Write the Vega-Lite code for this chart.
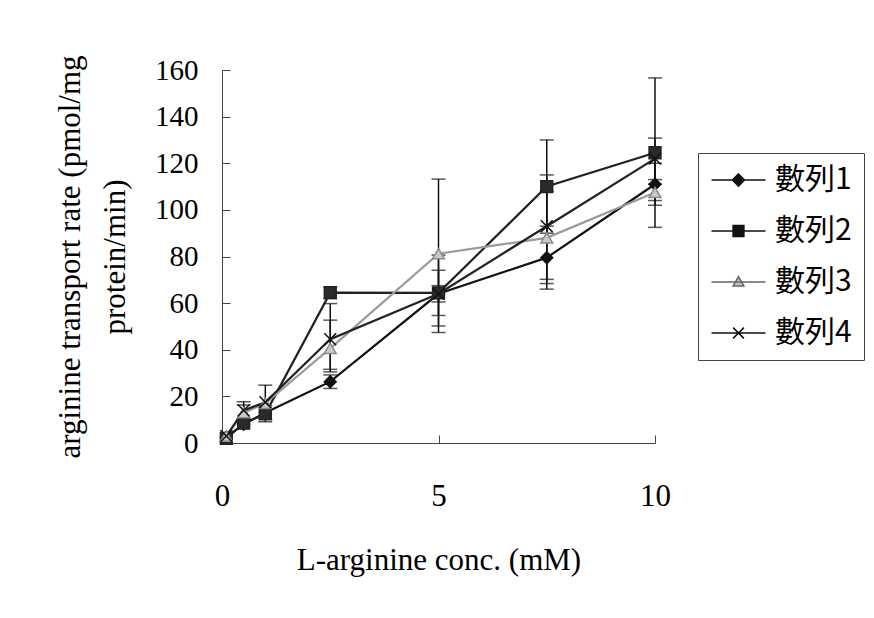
{
  "$schema": "https://vega.github.io/schema/vega-lite/v6.json",
  "width": 433,
  "height": 373,
  "autosize": "none",
  "padding": {"left": 222, "top": 70, "right": 219, "bottom": 175},
  "background": "white",
  "config": {
    "view": {"stroke": null},
    "axis": {
      "grid": false,
      "domainColor": "#444",
      "domainWidth": 1,
      "tickColor": "#444",
      "tickWidth": 1,
      "labelFont": "Liberation Serif",
      "labelFontSize": 29,
      "labelColor": "black",
      "labelFlush": false,
      "titleFont": "Liberation Serif",
      "titleFontSize": 31,
      "titleFontWeight": "normal",
      "titleColor": "black"
    },
    "legend": {
      "labelFont": "Noto Sans CJK TC",
      "labelFontSize": 30,
      "labelColor": "black"
    }
  },
  "data": {
    "values": [
      {"x": 0.1, "y": 2.5, "series": "數列1", "lo": null, "hi": null},
      {"x": 0.5, "y": 8, "series": "數列1", "lo": null, "hi": null},
      {"x": 1, "y": 13, "series": "數列1", "lo": null, "hi": null},
      {"x": 2.5, "y": 26.3, "series": "數列1", "lo": 23.4, "hi": 29.2},
      {"x": 5, "y": 64, "series": "數列1", "lo": 60.5, "hi": 67.5},
      {"x": 7.5, "y": 79.5, "series": "數列1", "lo": 66, "hi": 93},
      {"x": 10, "y": 111, "series": "數列1", "lo": 102, "hi": 120},
      {"x": 0.1, "y": 2, "series": "數列2", "lo": null, "hi": null},
      {"x": 0.5, "y": 8.5, "series": "數列2", "lo": null, "hi": null},
      {"x": 1, "y": 12.5, "series": "數列2", "lo": 9.1, "hi": 16},
      {"x": 2.5, "y": 64.5, "series": "數列2", "lo": 62, "hi": 67},
      {"x": 5, "y": 64.4, "series": "數列2", "lo": 54.7, "hi": 74.1},
      {"x": 7.5, "y": 110, "series": "數列2", "lo": 90, "hi": 130},
      {"x": 10, "y": 124.5, "series": "數列2", "lo": 92.5, "hi": 156.6},
      {"x": 0.1, "y": 3, "series": "數列3", "lo": null, "hi": null},
      {"x": 0.5, "y": 13, "series": "數列3", "lo": 10, "hi": 16.3},
      {"x": 1, "y": 17, "series": "數列3", "lo": null, "hi": null},
      {"x": 2.5, "y": 40.6, "series": "數列3", "lo": 31.6, "hi": 52.7},
      {"x": 5, "y": 81.2, "series": "數列3", "lo": 50.2, "hi": 113.2},
      {"x": 7.5, "y": 88, "series": "數列3", "lo": 68.4, "hi": 108},
      {"x": 10, "y": 107.5, "series": "數列3", "lo": 104, "hi": 111},
      {"x": 0.1, "y": 3, "series": "數列4", "lo": null, "hi": null},
      {"x": 0.5, "y": 14, "series": "數列4", "lo": 10.3, "hi": 17.7},
      {"x": 1, "y": 17.5, "series": "數列4", "lo": 10.2, "hi": 24.8},
      {"x": 2.5, "y": 44.5, "series": "數列4", "lo": 30.5, "hi": 59.8},
      {"x": 5, "y": 64, "series": "數列4", "lo": 47.4, "hi": 80.6},
      {"x": 7.5, "y": 93, "series": "數列4", "lo": 70.2, "hi": 115},
      {"x": 10, "y": 122, "series": "數列4", "lo": 113, "hi": 130.8}
    ]
  },
  "encoding": {
    "x": {
      "field": "x",
      "type": "quantitative",
      "scale": {"domain": [0, 10], "nice": false, "zero": false},
      "axis": {
        "title": "L-arginine conc. (mM)",
        "values": [0, 5, 10],
        "tickSize": -8,
        "labelFontSize": 31,
        "labelPadding": 46,
        "titlePadding": 34
      }
    },
    "y": {
      "field": "y",
      "type": "quantitative",
      "scale": {"domain": [0, 160], "nice": false},
      "axis": {
        "title": ["arginine transport rate (pmol/mg", "protein/min)"],
        "titleLineHeight": 45,
        "values": [0, 20, 40, 60, 80, 100, 120, 140, 160],
        "tickSize": -8,
        "labelPadding": 32,
        "titlePadding": 23
      }
    }
  },
  "resolve": {"scale": {"shape": "independent", "fill": "independent", "stroke": "independent"}},
  "layer": [
    {
      "mark": {"type": "line"},
      "encoding": {
        "detail": {"field": "series"},
        "color": {
          "field": "series",
          "type": "nominal",
          "scale": {"domain": ["數列1", "數列2", "數列3", "數列4"], "range": ["#111111", "#222222", "#9a9a9a", "#222222"]},
          "legend": null
        },
        "strokeWidth": {
          "field": "series",
          "type": "nominal",
          "scale": {"domain": ["數列1", "數列2", "數列3", "數列4"], "range": [2.2, 2.2, 1.2, 1.2]},
          "legend": null
        }
      }
    },
    {
      "transform": [{"filter": "datum.lo != null"}],
      "mark": {"type": "errorbar", "ticks": {"size": 14, "thickness": 1.5}, "rule": {"strokeWidth": 1.5}, "color": "#111111"},
      "encoding": {
        "detail": {"field": "series"},
        "y": {"field": "lo", "type": "quantitative"},
        "y2": {"field": "hi"}
      }
    },
    {
      "mark": {"type": "point", "size": 140, "strokeWidth": 1.5, "opacity": 1},
      "encoding": {
        "shape": {
          "field": "series",
          "type": "nominal",
          "scale": {"domain": ["數列1", "數列2", "數列3", "數列4"], "range": ["diamond", "square", "triangle-up", "M-1,-1L1,1M-1,1L1,-1"]},
          "legend": null
        },
        "fill": {
          "field": "series",
          "type": "nominal",
          "scale": {"domain": ["數列1", "數列2", "數列3", "數列4"], "range": ["#111111", "#2a2a2a", "#c8c8c8", "transparent"]},
          "legend": null
        },
        "stroke": {
          "field": "series",
          "type": "nominal",
          "scale": {"domain": ["數列1", "數列2", "數列3", "數列4"], "range": ["#111111", "#222222", "#8a8a8a", "#111111"]},
          "legend": null
        }
      }
    },
    {
      "transform": [{"filter": "false"}],
      "mark": {"type": "point", "size": 140, "strokeWidth": 1.5, "opacity": 1},
      "encoding": {
        "shape": {
          "field": "series",
          "type": "nominal",
          "title": null,
          "scale": {
            "domain": ["數列1", "數列2", "數列3", "數列4"],
            "range": [
              "M-1,0L3,0M1,-0.45L1.45,0L1,0.45L0.55,0Z",
              "M-1,0L3,0M0.6,-0.4L1.4,-0.4L1.4,0.4L0.6,0.4Z",
              "M-1,0L3,0M1,-0.4L1.4,0.3L0.6,0.3Z",
              "M-1,0L3,0M0.6,-0.4L1.4,0.4M0.6,0.4L1.4,-0.4"
            ]
          },
          "legend": {
            "orient": "none",
            "legendX": 476,
            "legendY": 83,
            "title": null,
            "padding": 12,
            "strokeColor": "#444",
            "symbolSize": 729,
            "symbolStrokeWidth": 1.5,
            "labelOffset": 35,
            "rowPadding": 21
          }
        },
        "fill": {
          "field": "series",
          "type": "nominal",
          "title": null,
          "scale": {"domain": ["數列1", "數列2", "數列3", "數列4"], "range": ["#111111", "#111111", "#c8c8c8", "transparent"]}
        },
        "stroke": {
          "field": "series",
          "type": "nominal",
          "title": null,
          "scale": {"domain": ["數列1", "數列2", "數列3", "數列4"], "range": ["#111111", "#111111", "#666666", "#111111"]}
        }
      }
    }
  ]
}
